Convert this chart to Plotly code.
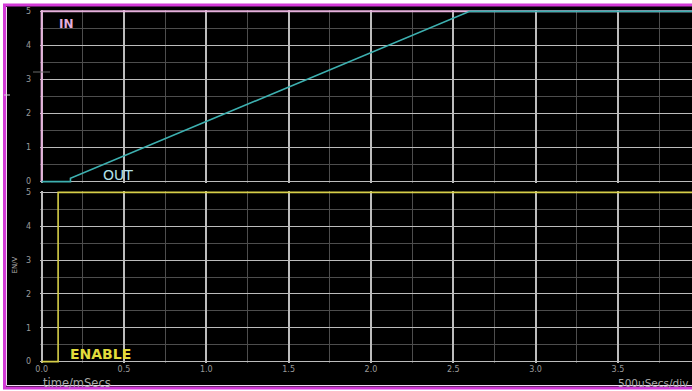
import plotly.graph_objects as go

# Time base in milliseconds, voltages in volts
in_t = [0.0, 0.0, 3.95]
in_v = [0.0, 5.0, 5.0]

out_t = [0.0, 0.175, 0.175, 2.6, 3.95]
out_v = [0.0, 0.0, 0.1, 5.0, 5.0]

enable_t = [0.0, 0.1, 0.1, 3.95]
enable_v = [0.0, 0.0, 5.0, 5.0]

x_ticks = [0.0, 0.5, 1.0, 1.5, 2.0, 2.5, 3.0, 3.5]
x_tick_text = ["0.0", "0.5", "1.0", "1.5", "2.0", "2.5", "3.0", "3.5"]
y_ticks = [0, 1, 2, 3, 4, 5]

W, H = 692, 391
ML, MR, MT, MB = 40, 0, 10, 28
plot_w = W - ML - MR
plot_h = H - MT - MB


def px_x(px):
    return (px - ML) / plot_w


def px_y(py):
    return (H - MB - py) / plot_h


MAJOR = "#bcbcbc"
MINOR = "#4d4d4d"
TICKFONT = dict(family="DejaVu Sans", size=8, color="#9a9a9a")

fig = go.Figure()

fig.add_trace(go.Scatter(x=in_t, y=in_v, mode="lines", name="IN",
                         line=dict(color="#e6b0dc", width=2),
                         xaxis="x", yaxis="y"))
fig.add_trace(go.Scatter(x=out_t, y=out_v, mode="lines", name="OUT",
                         line=dict(color="#3db0b0", width=1.6),
                         xaxis="x", yaxis="y"))
fig.add_trace(go.Scatter(x=enable_t, y=enable_v, mode="lines", name="ENABLE",
                         line=dict(color="#d6ce48", width=1.6),
                         xaxis="x2", yaxis="y2"))

xcommon = dict(range=[-0.01, 3.95], tickvals=x_ticks, ticktext=x_tick_text,
               showgrid=True, gridcolor=MAJOR, gridwidth=1.6,
               minor=dict(dtick=0.25, tick0=0, showgrid=True,
                          gridcolor=MINOR, gridwidth=1),
               zeroline=False, showline=False, ticks="",
               tickfont=TICKFONT, fixedrange=True)
ycommon = dict(range=[-0.04, 5.04], tickvals=y_ticks,
               showgrid=True, gridcolor=MAJOR, gridwidth=1.4,
               minor=dict(dtick=0.5, tick0=0, showgrid=True,
                          gridcolor=MINOR, gridwidth=1),
               zeroline=False, showline=False, ticks="",
               tickfont=TICKFONT, ticklabelstandoff=8, fixedrange=True)

fig.update_layout(
    width=W, height=H,
    margin=dict(l=ML, r=MR, t=MT, b=MB),
    paper_bgcolor="#ffffff",
    plot_bgcolor="#000000",
    showlegend=False,
    xaxis=dict(anchor="y", domain=[0, 1], showticklabels=False, **xcommon),
    xaxis2=dict(anchor="y2", domain=[0, 1], matches="x", showticklabels=True,
                ticklabelstandoff=0, **xcommon),
    yaxis=dict(anchor="x", domain=[px_y(183), 1], **ycommon),
    yaxis2=dict(anchor="x2", domain=[0, px_y(191)], **ycommon),
)

# Instrument frame: black screen with magenta border
fig.add_shape(type="rect", xref="paper", yref="paper", layer="below",
              x0=px_x(4.5), x1=px_x(760), y0=px_y(388), y1=px_y(5),
              fillcolor="#000000", line=dict(color="#d23ad6", width=3))
fig.add_shape(type="line", xref="paper", yref="paper", layer="below",
              x0=px_x(6.5), x1=px_x(6.5), y0=px_y(385.5), y1=px_y(7),
              line=dict(color="#f2dcf2", width=1))
fig.add_shape(type="line", xref="paper", yref="paper", layer="below",
              x0=px_x(6.5), x1=px_x(760), y0=px_y(385.5), y1=px_y(385.5),
              line=dict(color="#f2dcf2", width=1))
fig.add_shape(type="line", xref="paper", yref="paper", layer="above",
              x0=px_x(4), x1=px_x(10), y0=px_y(95), y1=px_y(95),
              line=dict(color="#d8d8d8", width=1))
fig.add_shape(type="line", xref="paper", yref="paper", layer="above",
              x0=px_x(33), x1=px_x(50), y0=px_y(72), y1=px_y(72),
              line=dict(color="#6a6a6a", width=1))

# Trace names written on the screen
fig.add_annotation(x=0.153, y=4.62, xref="x", yref="y", text="<b>IN</b>",
                   showarrow=False,
                   font=dict(family="DejaVu Sans", size=12, color="#e6b0dc"))
fig.add_annotation(x=0.465, y=0.19, xref="x", yref="y", text="OUT",
                   showarrow=False,
                   font=dict(family="DejaVu Sans", size=14, color="#b4e2ea"))
fig.add_annotation(x=0.36, y=0.22, xref="x2", yref="y2", text="<b>ENABLE</b>",
                   showarrow=False,
                   font=dict(family="DejaVu Sans", size=14, color="#e2dc3c"))

# Axis captions
fig.add_annotation(x=px_x(41), y=px_y(383), xref="paper", yref="paper",
                   text="time/mSecs", showarrow=False, xanchor="left",
                   yanchor="middle",
                   font=dict(family="DejaVu Sans", size=11.5, color="#a8a8a8"))
fig.add_annotation(x=px_x(690), y=px_y(383), xref="paper", yref="paper",
                   text="500uSecs/div", showarrow=False, xanchor="right",
                   yanchor="middle",
                   font=dict(family="DejaVu Sans", size=10.5, color="#a8a8a8"))
fig.add_annotation(x=px_x(8), y=px_y(276), xref="paper", yref="paper",
                   text="EN/V", showarrow=False, textangle=-90,
                   font=dict(family="DejaVu Sans", size=7, color="#b0b0b0"))

fig.write_html("out.html")
